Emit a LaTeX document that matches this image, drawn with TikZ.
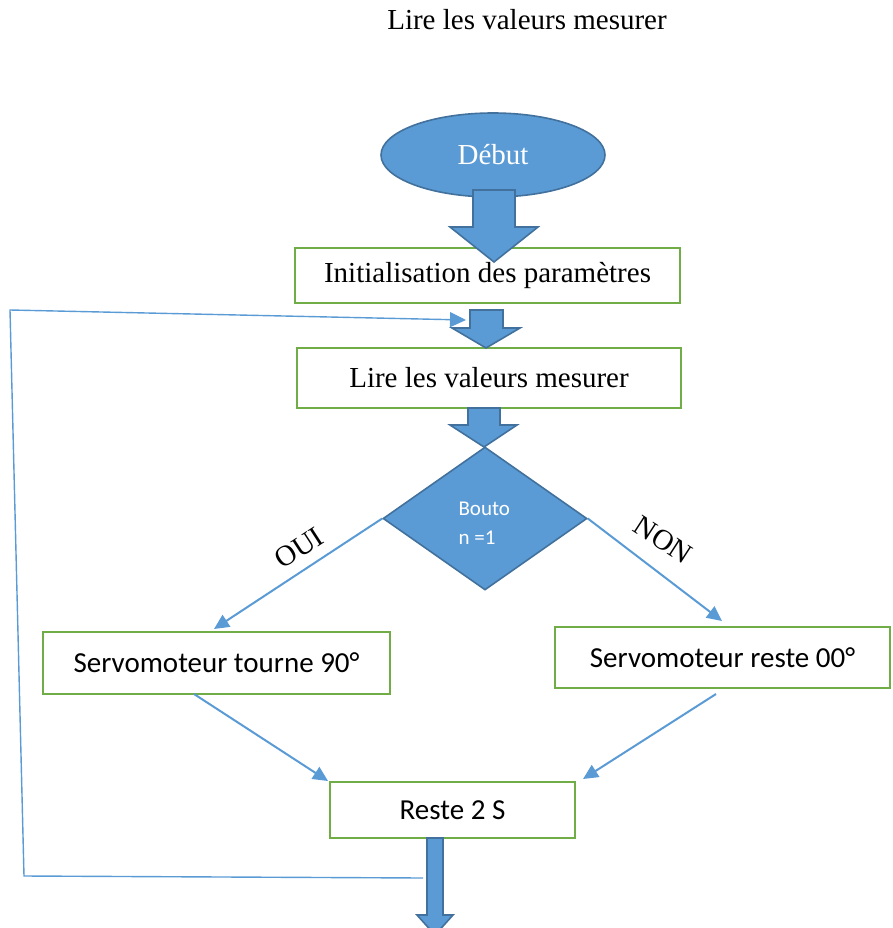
\documentclass[tikz,border=0pt]{standalone}
\usepackage{fontspec}
\setmainfont{Liberation Serif}
\newfontfamily\calibri{Carlito}
\usetikzlibrary{shapes.geometric,arrows.meta,calc}
\definecolor{accent}{HTML}{5B9BD5}
\definecolor{accentdark}{HTML}{41719C}
\definecolor{boxgreen}{HTML}{70AD47}

\tikzset{
  txt/.style={font=\fontsize{29}{32}\selectfont},
  sanstxt/.style={font=\calibri\fontsize{29}{32}\selectfont},
  procbox/.style={draw=boxgreen, line width=2.2pt, fill=white, inner sep=0pt},
  blockarrow/.style={fill=accent, draw=accentdark, line width=1.6pt, line join=miter},
  conn/.style={draw=accent, line width=2pt, -{Triangle[length=15pt,width=14pt]}},
  loopline/.style={draw=accent, line width=1.4pt, -{Triangle[length=16pt,width=15pt]}},
  branchlabel/.style={font=\fontsize{29}{32}\selectfont, inner sep=0pt},
}

\begin{document}
\begin{tikzpicture}[x=1pt,y=-1pt]
\useasboundingbox (0,0) rectangle (892,928);

% heading
\node[txt] (title) at (527,20) {Lire les valeurs mesurer};

% start terminal
\node[ellipse, minimum width=224pt, minimum height=84pt, inner sep=0pt,
      fill=accent, draw=accentdark, line width=1.6pt,
      text=white, txt] (start) at (493,155) {Début};

% process boxes
\node[procbox, minimum width=385pt, minimum height=55pt, txt] (init) at (487.5,275.5) {Initialisation des paramètres};
\node[procbox, minimum width=384pt, minimum height=60pt, txt] (read) at (489,378) {Lire les valeurs mesurer};

% decision
\node[diamond, minimum width=204pt, minimum height=143pt, inner sep=0pt,
      fill=accent, draw=accentdark, line width=1.6pt] (dec) at (485,518.5) {};
\node[anchor=west, text=white, font=\calibri\fontsize{21}{24}\selectfont] (decA) at (455,509) {Bouto};
\node[anchor=west, text=white, font=\calibri\fontsize{21}{24}\selectfont] (decB) at (455,538) {n =1};

\node[procbox, minimum width=347pt, minimum height=62pt, sanstxt] (yes) at (216.5,663) {Servomoteur tourne 90°};
\node[procbox, minimum width=335pt, minimum height=61pt, sanstxt] (no) at (722.5,657.5) {Servomoteur reste 00°};
\node[procbox, minimum width=245pt, minimum height=56pt, sanstxt] (wait) at (452.5,810) {Reste 2 S};

% block arrows between the stages
\path[blockarrow] (473,190) -- (515,190) -- (515,227) -- (538,227) -- (494,262) -- (450,227) -- (473,227) -- cycle;
\path[blockarrow] (470,310) -- (503,310) -- (503,328) -- (520,328) -- (486,348) -- (452,328) -- (470,328) -- cycle;
\path[blockarrow] (468,408) -- (500,408) -- (500,425) -- (517,425) -- (484,447) -- (450,425) -- (468,425) -- cycle;
\path[blockarrow] (427,838) -- (443,838) -- (443,915) -- (453,915) -- (435,935) -- (417,915) -- (427,915) -- cycle;

% branch connectors
\coordinate (yesIn) at (214,629);
\coordinate (noIn) at (722,621);
\coordinate (yesOut) at (194,694);
\coordinate (noOut) at (716,694);
\coordinate (waitL) at (328,781);
\coordinate (waitR) at (583,779);
\draw[conn] (dec.west) -- (yesIn);
\draw[conn] (dec.east) -- (noIn);
\draw[conn] (yesOut) -- (waitL);
\draw[conn] (noOut) -- (waitR);

\node[branchlabel, rotate=33] (oui) at (299,548) {OUI};
\node[branchlabel, rotate=-33] (non) at (663,540) {NON};

% loop back to reading
\coordinate (loopA) at (423,878);
\coordinate (loopB) at (24,876);
\coordinate (loopC) at (10,310);
\coordinate (loopD) at (466,320);
\draw[loopline] (loopA) -- (loopB) -- (loopC) -- (loopD);
\end{tikzpicture}
\end{document}
